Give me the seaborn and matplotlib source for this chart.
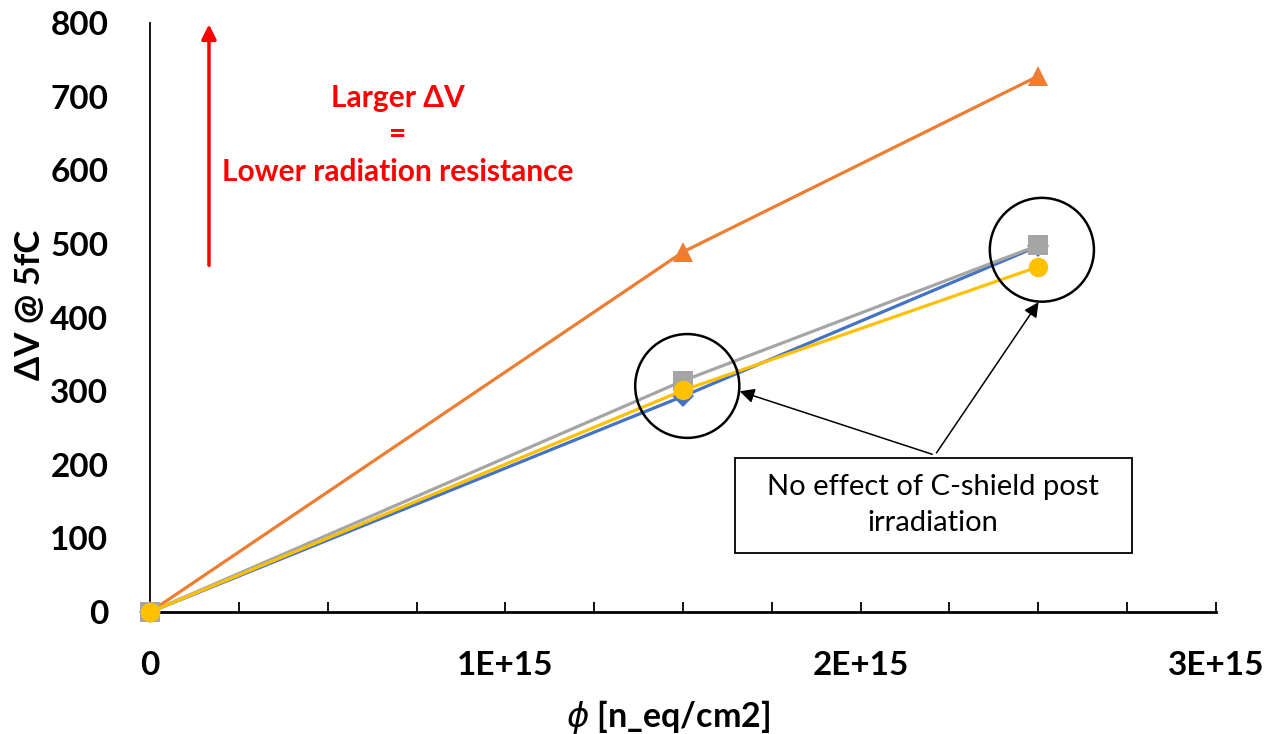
import matplotlib
matplotlib.use("Agg")
import matplotlib.pyplot as plt
import seaborn as sns
import pandas as pd
from matplotlib.patches import Ellipse, Rectangle

fluence = [0.0, 1.5e15, 2.5e15]
series_names = ["A", "B", "C", "D"]
series_values = [
    [0, 293, 497],
    [0, 489, 728],
    [0, 314, 498],
    [0, 301, 469],
]
series_colors = ["#4472C4", "#ED7D31", "#A5A5A5", "#FFC000"]
series_markers = ["D", "^", "s", "o"]
x_ticks = [0, 1e15, 2e15, 3e15]
x_tick_labels = ["0", "1E+15", "2E+15", "3E+15"]
y_ticks = [0, 100, 200, 300, 400, 500, 600, 700, 800]

sns.set_theme(style="white")
plt.rcParams['font.family'] = ['Lato', 'DejaVu Sans']

fig = plt.figure(figsize=(12.66, 7.34), dpi=100)
ax = fig.add_axes([150/1266, (734-612)/734, 1066/1266, 589/734])

for name, vals, col, mk in zip(series_names, series_values, series_colors, series_markers):
    df = pd.DataFrame({"x": fluence, "y": vals})
    sns.lineplot(data=df, x="x", y="y", ax=ax, color=col, linewidth=2.3,
                 marker=mk, markersize=14 if mk != "D" else 11, markeredgewidth=0,
                 clip_on=False, zorder=3)

ax.set_xlim(0, 3e15)
ax.set_ylim(0, 800)
ax.set_xticks(x_ticks)
ax.set_xticklabels(x_tick_labels)
ax.set_xticks([i * 0.25e15 for i in range(13)], minor=True)
ax.set_yticks(y_ticks)
ax.set_yticklabels([str(v) for v in y_ticks])
for lab in ax.get_xticklabels() + ax.get_yticklabels():
    lab.set_fontweight("bold")
    lab.set_fontsize(24)
    lab.set_color("black")
ax.tick_params(axis="x", which="both", direction="in", length=7, width=1.3, color="black", pad=28, bottom=True)
ax.tick_params(axis="y", which="both", length=0, pad=30)

for s in ["top", "right"]:
    ax.spines[s].set_visible(False)
ax.spines["left"].set_color("black")
ax.spines["left"].set_linewidth(1.3)
ax.spines["bottom"].set_color("black")
ax.spines["bottom"].set_linewidth(2)

ax.set_ylabel("ΔV @ 5fC", fontsize=25, fontweight="bold", color="black")
ax.yaxis.set_label_coords(-0.098, 0.521)
ax.set_xlabel(r"$\phi$ [n_eq/cm2]", fontsize=24.5, fontweight="bold", color="black")
ax.xaxis.set_label_coords(0.486, -0.146)

# circles
for cx, cy in [(1.512e15, 307), (2.51e15, 492)]:
    ax.add_patch(Ellipse((cx, cy), width=0.293e15, height=141, fill=False,
                         edgecolor="black", linewidth=1.8, clip_on=False, zorder=5))

# text box
ax.add_patch(Rectangle((1.646e15, 80), 1.118e15, 129, fill=True, facecolor="white",
                       edgecolor="black", linewidth=1.3, zorder=6))
ax.text(2.204e15, 145, "No effect of C-shield post\nirradiation", ha="center", va="center",
        fontsize=21, color="black", zorder=7, linespacing=1.5)

for tx, ty in [(1.652e15, 301), (2.505e15, 424)]:
    ax.annotate("", xy=(tx, ty), xytext=(2.209e15, 213),
                arrowprops=dict(arrowstyle="-|>", color="black", lw=1.1, mutation_scale=22),
                zorder=6)

# red arrow
ax.annotate("", xy=(0.166e15, 802), xytext=(0.166e15, 467),
            arrowprops=dict(arrowstyle="-|>", color="#FF0000", lw=2.5, mutation_scale=22),
            annotation_clip=False)
ax.text(0.698e15, 698, "Larger ΔV", ha="center", va="center", fontsize=21.5, fontweight="bold", color="#FF0000")
ax.text(0.698e15, 649, "=", ha="center", va="center", fontsize=21.5, fontweight="bold", color="#FF0000")
ax.text(0.698e15, 598, "Lower radiation resistance", ha="center", va="center", fontsize=21.5, fontweight="bold", color="#FF0000")

fig.savefig("out.png", dpi=100)
